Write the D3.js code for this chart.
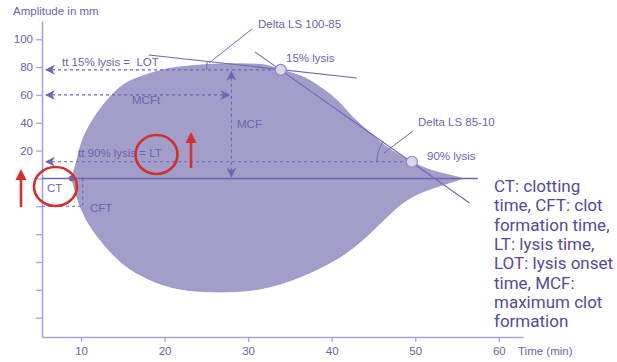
<!DOCTYPE html>
<html><head><meta charset="utf-8">
<script src="https://cdn.jsdelivr.net/npm/d3@7"></script>
<style>
body{margin:0;background:#fff;}
svg{display:block;}
text{white-space:pre;}
</style></head>
<body>
<svg id="c" width="617" height="362"></svg>
<script>
// ---- data ----
const topTime = [8.9, 9.5, 10.2, 11.4, 13.1, 15.0, 17.1, 20.3, 23.0, 26.6, 30.2, 32.0, 33.9, 36.6, 38.6, 40.6, 42.5, 44.6, 46.6, 49.6, 51.8, 54.1, 55.7];
const topAmp  = [0, 13, 28, 42, 56, 67, 73, 78.7, 80.8, 82.2, 82.2, 81.5, 78, 72.8, 65.7, 56.4, 44.2, 32.7, 22.6, 11.9, 6.1, 2.5, 0];
const botTime = [8.9, 9.9, 11.4, 14.9, 18.3, 21.8, 26.6, 31.4, 36.2, 41.0, 43.7, 46.6, 48.5, 50.6, 53.3, 55.7];
const botAmp  = [0, -20, -37, -60.7, -72.9, -79.4, -81.5, -79.4, -70.8, -56.4, -44.2, -27.7, -17.6, -10.4, -4.7, 0];
const yTickValues = [-100, -80, -60, -40, -20, 0, 20, 40, 60, 80, 100];
const yTickLabels = ["", "", "", "", "", "", "20", "40", "60", "80", "100"];
const xTickValues = [10, 20, 30, 40, 50, 60];
const ctTime = 8.9, cftTime = 10.2, cftAmp = -20;
const mcfTime = 28.0, lotAmp = 78, mcftAmp = 60, ltAmp = 12;
const lysis15 = [33.9, 78], lysis90 = [49.6, 12];
const tangent1 = [[18.1, 88.7], [43.0, 72.2]];
const tangent2 = [[30.8, 90.9], [56.5, -17.6]];
const baselineEnd = 57.5;
const legendLines = ["CT: clotting", "time, CFT: clot", "formation time,", "LT: lysis time,", "LOT: lysis onset", "time, MCF:", "maximum clot", "formation"];

// ---- drawing ----
const svg = d3.select("#c");
const x = d3.scaleLinear().domain([5.33, 62.9]).range([42, 523]);
const y = d3.scaleLinear().domain([-113.9, 113.1]).range([337, 21]);

const FILL = "#a39dca", LINE = "#6e66b0", TXT = "#6b63ad", AX = "#a8a2d6", RED = "#d2302c";
const font = "'Liberation Sans', Arial, sans-serif";

// shape
const topPts = topTime.map((t, i) => [t, topAmp[i]]);
const botPts = botTime.map((t, i) => [t, botAmp[i]]).reverse();
const lineGen = d3.line().x(d => x(d[0])).y(d => y(d[1])).curve(d3.curveCatmullRom.alpha(0.5));
const shapePath = lineGen(topPts) + lineGen(botPts).replace(/^M/, "L") + "Z";
svg.append("path").attr("d", shapePath).attr("fill", FILL).attr("stroke", "#9590c4").attr("stroke-width", 0.8);

// axes
const yAxis = d3.axisLeft(y).tickValues(yTickValues).tickSize(6).tickSizeOuter(0)
  .tickFormat((d, i) => yTickLabels[i]);
const gy = svg.append("g").attr("transform", `translate(${x.range()[0]},0)`).call(yAxis);
const xAxis = d3.axisBottom(x).tickValues(xTickValues).tickSize(5).tickSizeOuter(0);
const gx = svg.append("g").attr("transform", `translate(0,${y.range()[0]})`).call(xAxis);
[gy, gx].forEach(g => {
  g.select(".domain").attr("stroke", AX).attr("stroke-width", 1.6);
  g.selectAll(".tick line").attr("stroke", AX).attr("stroke-width", 1.3);
  g.selectAll(".tick text").attr("fill", TXT).attr("font-family", font).attr("font-size", 11.5);
});
gy.selectAll(".tick text").attr("x", -9);
gx.selectAll(".tick text").attr("y", 10);

function txt(t, px, py, opts = {}) {
  return svg.append("text").attr("x", px).attr("y", py).text(t)
    .attr("font-family", opts.family || font).attr("font-size", opts.size || 11.5)
    .attr("fill", opts.fill || TXT).attr("text-anchor", opts.anchor || "start");
}
txt("Amplitude in mm", 13, 15);
txt("Time (min)", 518, 355);

// arrowhead helper: tip (px,py), direction angle (radians) of pointing
function arrow(px, py, ang, len = 10, hw = 5, color = LINE) {
  const c = Math.cos(ang), s = Math.sin(ang);
  const bx = px - c * len, by = py - s * len;
  const nx = -s, ny = c;
  const notchX = px - c * len * 0.7, notchY = py - s * len * 0.7;
  svg.append("path")
    .attr("d", `M${px},${py}L${bx + nx * hw},${by + ny * hw}L${notchX},${notchY}L${bx - nx * hw},${by - ny * hw}Z`)
    .attr("fill", color);
}
function dashed(x1, y1, x2, y2) {
  svg.append("line").attr("x1", x1).attr("y1", y1).attr("x2", x2).attr("y2", y2)
    .attr("stroke", LINE).attr("stroke-width", 1.1).attr("stroke-dasharray", "3,3");
}
function solid(x1, y1, x2, y2, w = 1.1) {
  svg.append("line").attr("x1", x1).attr("y1", y1).attr("x2", x2).attr("y2", y2)
    .attr("stroke", LINE).attr("stroke-width", w);
}

const x0 = x.range()[0];
// baseline
solid(x0, y(0), x(baselineEnd), y(0), 1.5);
svg.append("circle").attr("cx", x(ctTime)).attr("cy", y(0)).attr("r", 3).attr("fill", LINE);

// LOT dashed
dashed(x0 + 4, y(lotAmp), x(lysis15[0]), y(lotAmp));
arrow(x0 + 3, y(lotAmp), Math.PI);
txt("tt 15% lysis =  LOT", 62, 66);

// MCFt
dashed(x0 + 4, y(mcftAmp), x(mcfTime) - 2, y(mcftAmp));
arrow(x0 + 3, y(mcftAmp), Math.PI);
arrow(x(mcfTime) - 1, y(mcftAmp), 0);
txt("MCFt", 132, 104);

// MCF vertical
dashed(x(mcfTime), y(lotAmp) + 2, x(mcfTime), y(0) - 2);
arrow(x(mcfTime), y(lotAmp) + 1, -Math.PI / 2);
arrow(x(mcfTime), y(0) - 1, Math.PI / 2);
txt("MCF", 237, 128);

// LT dashed
dashed(x0 + 4, y(ltAmp), x(lysis90[0]), y(ltAmp));
arrow(x0 + 3, y(ltAmp), Math.PI);
txt("tt 90% lysis = LT", 78, 157);

// CFT
dashed(x0, y(cftAmp), x(cftTime), y(cftAmp));
dashed(x(cftTime), y(0), x(cftTime), y(cftAmp));
txt("CT", 47, 192);
txt("CFT", 90, 212);

// tangent lines
solid(x(tangent1[0][0]), y(tangent1[0][1]), x(tangent1[1][0]), y(tangent1[1][1]));
solid(x(tangent2[0][0]), y(tangent2[0][1]), x(tangent2[1][0]), y(tangent2[1][1]));

// angle arcs
function angleArc(cx, cy, r, a1, a2) {
  const arc = d3.path();
  arc.arc(cx, cy, r, a1, a2, a2 < a1);
  svg.append("path").attr("d", arc.toString()).attr("fill", "none").attr("stroke", LINE).attr("stroke-width", 1);
}
{
  const cx = x(lysis15[0]), cy = y(lysis15[1]);
  const ang = Math.atan2(y(tangent1[0][1]) - cy, x(tangent1[0][0]) - cx);
  angleArc(cx, cy, 74, Math.PI, ang + 2 * Math.PI);
}
{
  const cx = x(lysis90[0]), cy = y(lysis90[1]);
  const ang = Math.atan2(y(tangent2[0][1]) - cy, x(tangent2[0][0]) - cx);
  angleArc(cx, cy, 35, Math.PI, ang + 2 * Math.PI);
}
// leaders
solid(252, 29, 209, 63, 1);
solid(413, 131, 384, 153, 1);
txt("Delta LS 100-85", 258, 28);
txt("Delta LS 85-10", 418, 126);

// lysis circles
[lysis15, lysis90].forEach(p => {
  svg.append("circle").attr("cx", x(p[0])).attr("cy", y(p[1])).attr("r", 5.5)
    .attr("fill", "#d9d6ec").attr("stroke", "#8f88c4").attr("stroke-width", 1.2);
});
txt("15% lysis", 286, 62);
txt("90% lysis", 427, 160);

// red highlights
svg.append("ellipse").attr("cx", 55.5).attr("cy", 186.5).attr("rx", 21.5).attr("ry", 19.5)
  .attr("fill", "none").attr("stroke", RED).attr("stroke-width", 2.6);
svg.append("ellipse").attr("cx", 156.5).attr("cy", 154.5).attr("rx", 21).attr("ry", 19.5)
  .attr("fill", "none").attr("stroke", RED).attr("stroke-width", 2.6);
function redArrow(px, yBottom, yTip) {
  svg.append("line").attr("x1", px).attr("y1", yBottom).attr("x2", px).attr("y2", yTip + 8)
    .attr("stroke", RED).attr("stroke-width", 2.6);
  svg.append("path").attr("d", `M${px},${yTip}L${px - 5.5},${yTip + 11}L${px + 5.5},${yTip + 11}Z`).attr("fill", RED);
}
redArrow(21, 207, 169);
redArrow(191, 168, 132);

// legend text
const lg = svg.append("text").attr("font-family", "Roboto, 'Noto Sans', sans-serif")
  .attr("font-size", 17).attr("fill", "#56499c");
legendLines.forEach((l, i) => {
  lg.append("tspan").attr("x", 494).attr("y", 192 + i * 19.3).text(l);
});
</script>
</body></html>
